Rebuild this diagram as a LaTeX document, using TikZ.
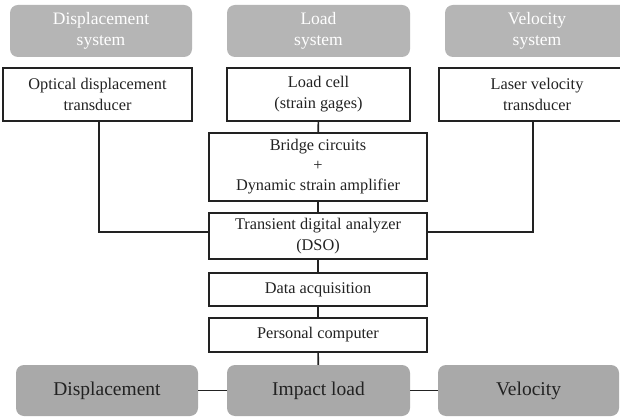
\documentclass[tikz,border=0pt]{standalone}
\usepackage{fontspec}
\setmainfont{Liberation Serif}
\usepackage{xcolor}
\usepackage{tikz}

\definecolor{sysgray}{HTML}{B5B5B5}
\definecolor{outgray}{HTML}{A9A9A9}
\definecolor{inkgray}{HTML}{222222}

\tikzset{
  sysbox/.style={fill=sysgray, rounded corners=8pt, text=white, align=center, inner sep=0pt, font=\fontsize{17.5}{21}\selectfont},
  unitbox/.style={draw=inkgray, line width=1.6pt, fill=white, text=inkgray, align=center, inner sep=0pt, font=\fontsize{16.3}{21}\selectfont},
  outbox/.style={fill=outgray, rounded corners=8pt, text=inkgray, align=center, inner sep=0pt, font=\fontsize{19.5}{23}\selectfont},
  wire/.style={draw=inkgray, line width=1.6pt}
}

\begin{document}
\begin{tikzpicture}[x=1pt,y=1pt,yscale=-1]
\clip (0,0) rectangle (620,419);
\fill[white] (0,0) rectangle (620,419);

% Shape: system headers
\node[sysbox, minimum width=182pt, minimum height=52pt] (dispsys) at (101,31) {Displacement\\system};
\node[sysbox, minimum width=183pt, minimum height=52pt] (loadsys) at (318.5,31) {Load\\system};
\node[sysbox, minimum width=184pt, minimum height=52pt] (velosys) at (537,31) {Velocity\\system};

% Shape: transducers
\node[unitbox, minimum width=189pt, minimum height=53pt] (opt) at (97.5,94.5) {Optical displacement\\transducer};
\node[unitbox, minimum width=183pt, minimum height=53pt] (cell) at (318.5,94.5) {Load cell\\(strain gages)};
\node[unitbox, minimum width=196pt, minimum height=53pt] (laser) at (537,94.5) {Laser velocity\\transducer};

% Shape: signal chain
\node[unitbox, minimum width=218pt, minimum height=68pt, font=\fontsize{16.3}{20}\selectfont] (bridge) at (318,167) {Bridge circuits\\+\\Dynamic strain amplifier};
\node[unitbox, minimum width=218pt, minimum height=46pt] (dso) at (318,236) {Transient digital analyzer\\(DSO)};
\node[unitbox, minimum width=218pt, minimum height=33pt] (daq) at (318,289.5) {Data acquisition};
\node[unitbox, minimum width=218pt, minimum height=34pt] (pc) at (318,335) {Personal computer};

% Shape: outputs
\node[outbox, minimum width=182pt, minimum height=51pt] (dispout) at (107,390.5) {Displacement};
\node[outbox, minimum width=183pt, minimum height=51pt] (impact) at (318.5,390.5) {Impact load};
\node[outbox, minimum width=181pt, minimum height=51pt] (veloout) at (528.5,390.5) {Velocity};

% Connectors
\coordinate (oj) at (99,232);
\coordinate (lj) at (533,232);
\draw[wire] (cell) -- (bridge);
\draw[wire] (bridge) -- (dso);
\draw[wire] (dso) -- (daq);
\draw[wire] (daq) -- (pc);
\draw[wire] (pc) -- (impact);
\draw[wire] (opt.south -| oj) |- (dso.west |- oj);
\draw[wire] (laser.south -| lj) |- (dso.east |- lj);
\draw[wire] (dispout) -- (impact);
\draw[wire] (impact) -- (veloout);

\end{tikzpicture}
\end{document}
